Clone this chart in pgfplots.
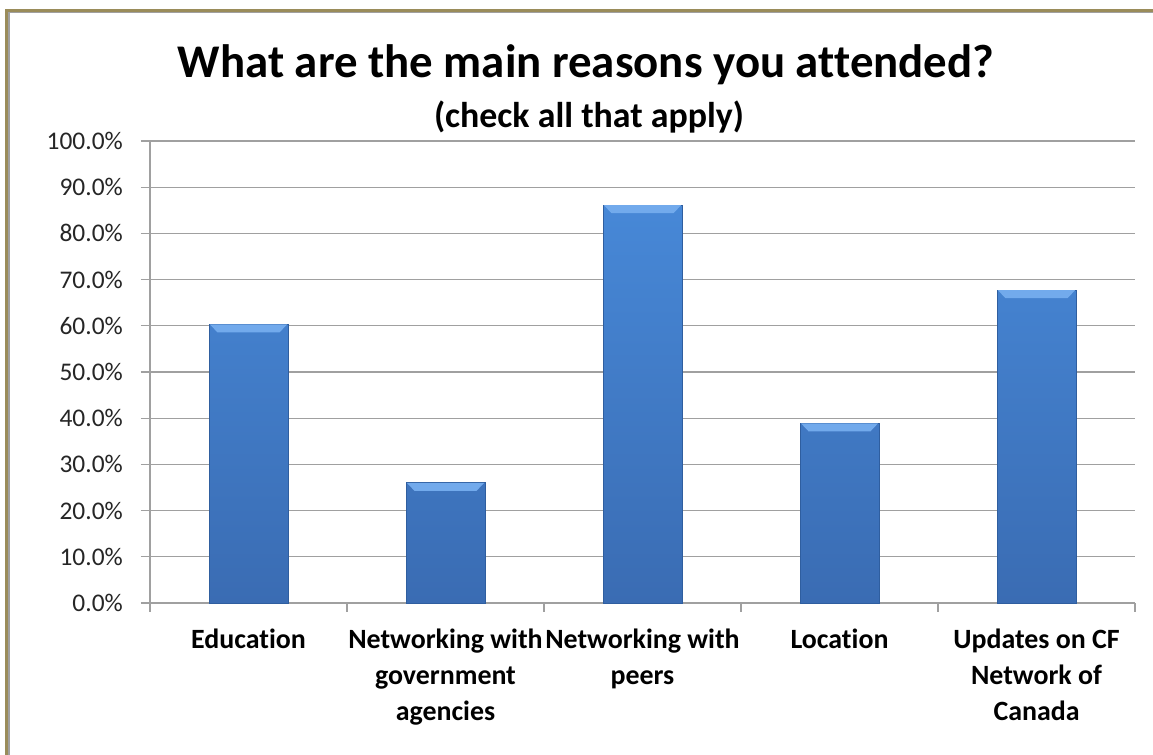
\documentclass[border=0pt]{standalone}
\usepackage{fontspec}
\setmainfont{Carlito}[Ligatures=NoCommon]
\usepackage{pgfplots}
\pgfplotsset{compat=1.18}
\definecolor{frameolive}{HTML}{9A8C5A}
\definecolor{gridgray}{HTML}{A0A0A0}
\definecolor{bartop}{HTML}{4788D7}
\definecolor{barbot}{HTML}{3A6CB3}
\definecolor{baredge}{HTML}{2F5E9F}
\definecolor{bevelc}{HTML}{72AAEC}
\pgfdeclareplotmark{bevel}{%
  \pgfpathmoveto{\pgfpoint{-38.6bp}{0bp}}%
  \pgfpathlineto{\pgfpoint{38.6bp}{0bp}}%
  \pgfpathlineto{\pgfpoint{31bp}{-8bp}}%
  \pgfpathlineto{\pgfpoint{-31bp}{-8bp}}%
  \pgfpathclose
  \pgfusepath{fill}}
\begin{document}
\begin{tikzpicture}
\useasboundingbox (0,0) rectangle (1153bp,755bp);
\fill[white] (0,0) rectangle (1153bp,755bp);
% frame
\fill[frameolive] (5bp,-5bp) rectangle (8bp,746bp);
\fill[frameolive] (5bp,743bp) rectangle (1160bp,746bp);
\fill[gridgray] (8bp,-5bp) rectangle (10bp,743bp);
\fill[gridgray] (8bp,741.7bp) rectangle (1160bp,743bp);
% titles
\node[font=\bfseries\fontsize{47}{56}\selectfont, anchor=base, inner sep=0pt] at (586bp,677bp) {What are the main reasons you attended?};
\node[font=\bfseries\fontsize{36}{42}\selectfont, anchor=base, inner sep=0pt] at (589bp,627bp) {(check all that apply)};
\begin{axis}[
  at={(150bp,152bp)}, anchor=south west,
  scale only axis, width=985bp, height=462bp,
  xmin=0, xmax=5, ymin=0, ymax=100,
  axis lines*=left,
  axis line style={gridgray, line width=1.2bp},
  tick align=outside,
  major tick length=9bp,
  tick style={gridgray, line width=1.2bp},
  ytick={0,10,...,100},
  ymajorgrids,
  major grid style={gridgray, line width=1.2bp},
  xtick={0,1,2,3,4,5},
  xticklabels={,,,,,},
  /pgf/number format/assume math mode=true,
  yticklabel={\pgfmathprintnumber[fixed,fixed zerofill,precision=1]{\tick}\%},
  yticklabel style={font=\fontsize{25.5}{30}\selectfont, text=black!85, inner sep=0pt, xshift=-18bp},
  extra x ticks={0.5,1.5,2.5,3.5,4.5},
  extra x tick labels={Education,{Networking with\\government\\agencies},{Networking with\\peers},Location,{Updates on CF\\Network of\\Canada}},
  extra x tick style={major tick length=0pt,
    xticklabel style={font=\bfseries\fontsize{28}{36}\selectfont, align=center, inner sep=0pt, anchor=north, yshift=-26bp}},
  clip=false,
]
\addplot[ybar, bar width=0.4, bar shift=0pt, top color=bartop, bottom color=barbot, draw=baredge, line width=0.8bp,
  mark=bevel, mark options={fill=bevelc, draw=none}]
  coordinates {(0.5,60.3) (1.5,26.0) (2.5,86.1) (3.5,38.9) (4.5,67.7)};
\end{axis}
\end{tikzpicture}
\end{document}
